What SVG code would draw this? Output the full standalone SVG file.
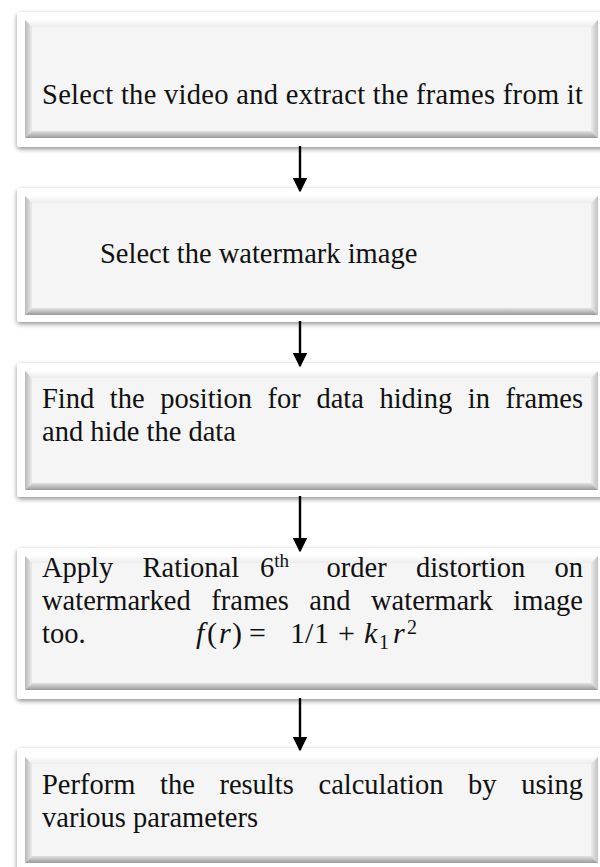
<svg xmlns="http://www.w3.org/2000/svg" width="600" height="867" viewBox="0 0 600 867">
  <defs>
    <style>
      .frame { fill: #ffffff; filter: url(#shadow); }
      .face { fill: #f5f5f5; }
      .bt { fill: url(#gTop); }
      .bl { fill: url(#gLeft); }
      .br { fill: url(#gRight); }
      .bb { fill: url(#gBottom); }
      .txt { font-family: "Liberation Serif", "Times New Roman", serif; font-size: 28.5px; fill: #111111; }
      .sup { font-size: 19px; }
      .math { font-family: "Liberation Serif", "DejaVu Serif", serif; font-size: 30px; fill: #111111; }
      .it { font-style: italic; }
      .idx { font-size: 20px; }
      .arrow { stroke: #000000; stroke-width: 2.4; fill: none; marker-end: url(#head); }
    </style>
    <filter id="shadow" x="-5%" y="-20%" width="110%" height="140%">
      <feGaussianBlur in="SourceAlpha" stdDeviation="2.5"/>
      <feOffset dx="0" dy="2" result="b"/>
      <feComponentTransfer><feFuncA type="linear" slope="0.45"/></feComponentTransfer>
      <feMerge><feMergeNode/><feMergeNode in="SourceGraphic"/></feMerge>
    </filter>
    <linearGradient id="gTop" x1="0" y1="0" x2="0" y2="1">
      <stop offset="0" stop-color="#fdfdfd"/>
      <stop offset="1" stop-color="#ececec"/>
    </linearGradient>
    <linearGradient id="gLeft" x1="0" y1="0" x2="1" y2="0">
      <stop offset="0" stop-color="#b8b8b8"/>
      <stop offset="1" stop-color="#ececec"/>
    </linearGradient>
    <linearGradient id="gRight" x1="0" y1="0" x2="1" y2="0">
      <stop offset="0" stop-color="#ececec"/>
      <stop offset="1" stop-color="#c2c2c2"/>
    </linearGradient>
    <linearGradient id="gBottom" x1="0" y1="0" x2="0" y2="1">
      <stop offset="0" stop-color="#e2e2e2"/>
      <stop offset="1" stop-color="#9a9a9a"/>
    </linearGradient>
    <marker id="head" markerWidth="6" markerHeight="6" refX="5.4" refY="3" orient="auto" markerUnits="strokeWidth">
      <path d="M0,0 L6,3 L0,6 Z" fill="#000000"/>
    </marker>
  </defs>

  <rect width="600" height="867" fill="#ffffff"/>

  <!-- Step 1 -->
  <g id="step1">
    <rect class="frame" x="17" y="12" width="600" height="135" rx="3"/>
    <rect class="face" x="25" y="20" width="573" height="118"/>
    <polygon class="bt" points="25,20 598,20 591,27 32,27"/>
    <polygon class="bl" points="25,20 32,27 32,131 25,138"/>
    <polygon class="br" points="598,20 598,138 591,131 591,27"/>
    <polygon class="bb" points="25,138 598,138 591,131 32,131"/>
    <text class="txt" x="42" y="104" textLength="541" lengthAdjust="spacing">Select the video and extract the frames from it</text>
  </g>

  <!-- Step 2 -->
  <g id="step2">
    <rect class="frame" x="17" y="188" width="600" height="134" rx="3"/>
    <rect class="face" x="25" y="196" width="573" height="119"/>
    <polygon class="bt" points="25,196 598,196 591,203 32,203"/>
    <polygon class="bl" points="25,196 32,203 32,308 25,315"/>
    <polygon class="br" points="598,196 598,315 591,308 591,203"/>
    <polygon class="bb" points="25,315 598,315 591,308 32,308"/>
    <text class="txt" x="100" y="263">Select the watermark image</text>
  </g>

  <!-- Step 3 -->
  <g id="step3">
    <rect class="frame" x="17" y="363" width="600" height="134" rx="3"/>
    <rect class="face" x="25" y="371" width="573" height="119"/>
    <polygon class="bt" points="25,371 598,371 591,378 32,378"/>
    <polygon class="bl" points="25,371 32,378 32,483 25,490"/>
    <polygon class="br" points="598,371 598,490 591,483 591,378"/>
    <polygon class="bb" points="25,490 598,490 591,483 32,483"/>
    <text class="txt" y="408"><tspan x="42">Find</tspan><tspan x="109.8">the</tspan><tspan x="160.2">position</tspan><tspan x="267.6">for</tspan><tspan x="316.4">data</tspan><tspan x="379.4">hiding</tspan><tspan x="467.8">in</tspan><tspan x="505.5">frames</tspan></text>
    <text class="txt" x="42" y="441">and hide the data</text>
  </g>

  <!-- Step 4 -->
  <g id="step4">
    <rect class="frame" x="17" y="548" width="600" height="151" rx="3"/>
    <rect class="face" x="25" y="556" width="573" height="134"/>
    <polygon class="bt" points="25,556 598,556 591,563 32,563"/>
    <polygon class="bl" points="25,556 32,563 32,683 25,690"/>
    <polygon class="br" points="598,556 598,690 591,683 591,563"/>
    <polygon class="bb" points="25,690 598,690 591,683 32,683"/>
    <text class="txt" y="577"><tspan x="42">Apply</tspan><tspan x="142.6">Rational</tspan><tspan x="260">6</tspan><tspan class="sup" dy="-10">th</tspan><tspan x="326.5" dy="10">order</tspan><tspan x="415.9">distortion</tspan><tspan x="554.5">on</tspan></text>
    <text class="txt" y="610"><tspan x="42">watermarked</tspan><tspan x="211.3">frames</tspan><tspan x="309.3">and</tspan><tspan x="371">watermark</tspan><tspan x="513.3">image</tspan></text>
    <text class="txt" x="42" y="643">too.</text>
    <!-- f(r) = 1/1 + k1 r^2 set glyph by glyph -->
    <text class="math" y="643"><tspan x="196" class="it">f</tspan><tspan x="207">(</tspan><tspan x="219" class="it">r</tspan><tspan x="232">)</tspan><tspan x="249">=</tspan><tspan x="290">1</tspan><tspan x="305">/</tspan><tspan x="314">1</tspan><tspan x="338">+</tspan><tspan x="364" class="it">k</tspan><tspan x="379" class="idx" dy="6">1</tspan><tspan x="393" class="it" dy="-6">r</tspan><tspan x="407" class="idx" dy="-9">2</tspan></text>
  </g>

  <!-- Step 5 -->
  <g id="step5">
    <rect class="frame" x="17" y="748" width="600" height="130" rx="3"/>
    <rect class="face" x="25" y="757" width="573" height="106"/>
    <polygon class="bt" points="25,757 598,757 591,764 32,764"/>
    <polygon class="bl" points="25,757 32,764 32,856 25,863"/>
    <polygon class="br" points="598,757 598,863 591,856 591,764"/>
    <polygon class="bb" points="25,863 598,863 591,856 32,856"/>
    <text class="txt" y="794"><tspan x="42">Perform</tspan><tspan x="160">the</tspan><tspan x="219.4">results</tspan><tspan x="318.5">calculation</tspan><tspan x="468.1">by</tspan><tspan x="521.2">using</tspan></text>
    <text class="txt" x="42" y="827">various parameters</text>
  </g>

  <!-- Connectors -->
  <g id="connectors">
    <line class="arrow" x1="300" y1="146" x2="300" y2="191"/>
    <line class="arrow" x1="300" y1="321" x2="300" y2="366"/>
    <line class="arrow" x1="300" y1="496" x2="300" y2="551"/>
    <line class="arrow" x1="300" y1="698" x2="300" y2="750"/>
  </g>
</svg>
